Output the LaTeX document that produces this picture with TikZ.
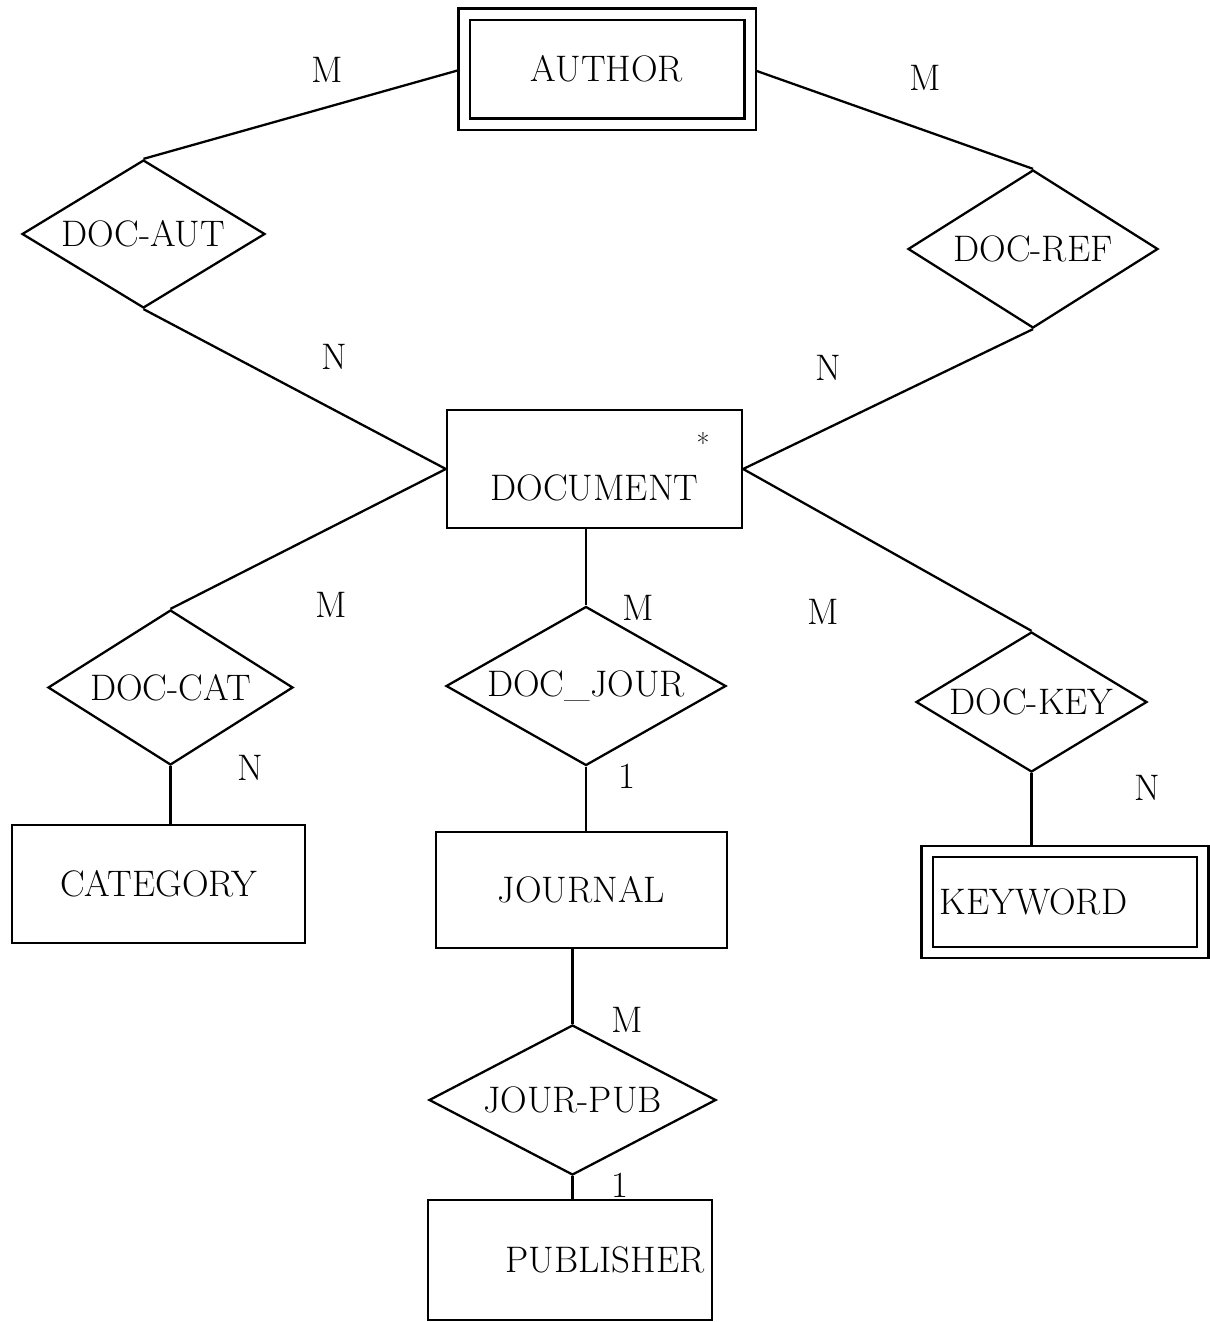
\documentclass[tikz,border=0pt]{standalone}
\usepackage{fontspec}
\usetikzlibrary{shapes.geometric}

\begin{document}
\begin{tikzpicture}[line width=1.3pt,font=\fontsize{21}{24}\selectfont,
	entity/.style={draw,rectangle,inner sep=0pt},
	weak/.style={entity,double,double distance=0.18cm},
	rel/.style={draw,diamond,aspect=1.7,inner sep=0pt},
	card/.style={inner sep=0pt},
	toweak/.style={shorten >=0.1cm}]
\useasboundingbox (0,0) rectangle (24.18,-26.44);
% entities
\node[weak,minimum width=5.72cm,minimum height=2.2cm] (author) at (12.14,-1.38) {AUTHOR};
\node[entity,minimum width=5.9cm,text height=1.8cm,text depth=0.56cm] (document) at (11.89,-9.38) {DOCUMENT};
\node[inner sep=0pt,font=\fontsize{16}{18}\selectfont] (docstar) at (14.06,-8.86) {*};
\node[entity,minimum width=5.86cm,minimum height=2.36cm] (category) at (3.17,-17.68) {CATEGORY};
\node[entity,minimum width=5.82cm,minimum height=2.32cm] (journal) at (11.63,-17.8) {JOURNAL};
\node[weak,inner xsep=0.25cm,text width=5.01cm,align=left,minimum height=2.02cm] (keyword) at (21.3,-18.04) {KEYWORD};
\node[entity,inner xsep=0.15cm,text width=5.38cm,align=right,minimum height=2.4cm] (publisher) at (11.4,-25.2) {PUBLISHER};
% relationships
\node[rel,minimum width=4.86cm,minimum height=2.96cm] (docaut) at (2.87,-4.68) {DOC-AUT};
\node[rel,minimum width=5.0cm,minimum height=3.16cm] (docref) at (20.66,-4.98) {DOC-REF};
\node[rel,minimum width=4.9cm,minimum height=3.1cm] (doccat) at (3.41,-13.75) {DOC-CAT};
\node[rel,minimum width=5.6cm,minimum height=3.18cm] (docjour) at (11.72,-13.72) {DOC\_JOUR};
\node[rel,minimum width=4.62cm,minimum height=2.8cm] (dockey) at (20.63,-14.04) {DOC-KEY};
\node[rel,minimum width=5.74cm,minimum height=3.0cm] (jourpub) at (11.45,-22.0) {JOUR-PUB};
% links
\draw[toweak] (docaut.north) -- (author.west);
\draw (docaut.south) -- (document.west);
\draw[toweak] (docref.north) -- (author.east);
\draw (docref.south) -- (document.east);
\draw (document.west) -- (doccat.north);
\draw (docjour.north |- document.south) -- (docjour.north);
\draw (document.east) -- (dockey.north);
\draw (doccat.south) -- (doccat.south |- category.north);
\draw (docjour.south) -- (docjour.south |- journal.north);
\draw[toweak] (dockey.south) -- (dockey.south |- keyword.north);
\draw (jourpub.north |- journal.south) -- (jourpub.north);
\draw (jourpub.south) -- (jourpub.south |- publisher.north);
% cardinalities
\node[card] (mAut) at (6.54,-1.4) {M};
\node[card] (nAut) at (6.68,-7.14) {N};
\node[card] (mRef) at (18.5,-1.56) {M};
\node[card] (nRef) at (16.56,-7.36) {N};
\node[card] (mCat) at (6.62,-12.1) {M};
\node[card] (nCat) at (5.0,-15.36) {N};
\node[card] (mJour) at (12.76,-12.16) {M};
\node[card] (oneJour) at (12.54,-15.52) {1};
\node[card] (mKey) at (16.46,-12.24) {M};
\node[card] (nKey) at (22.94,-15.76) {N};
\node[card] (mPub) at (12.54,-20.4) {M};
\node[card] (onePub) at (12.4,-23.7) {1};
\end{tikzpicture}
\end{document}
